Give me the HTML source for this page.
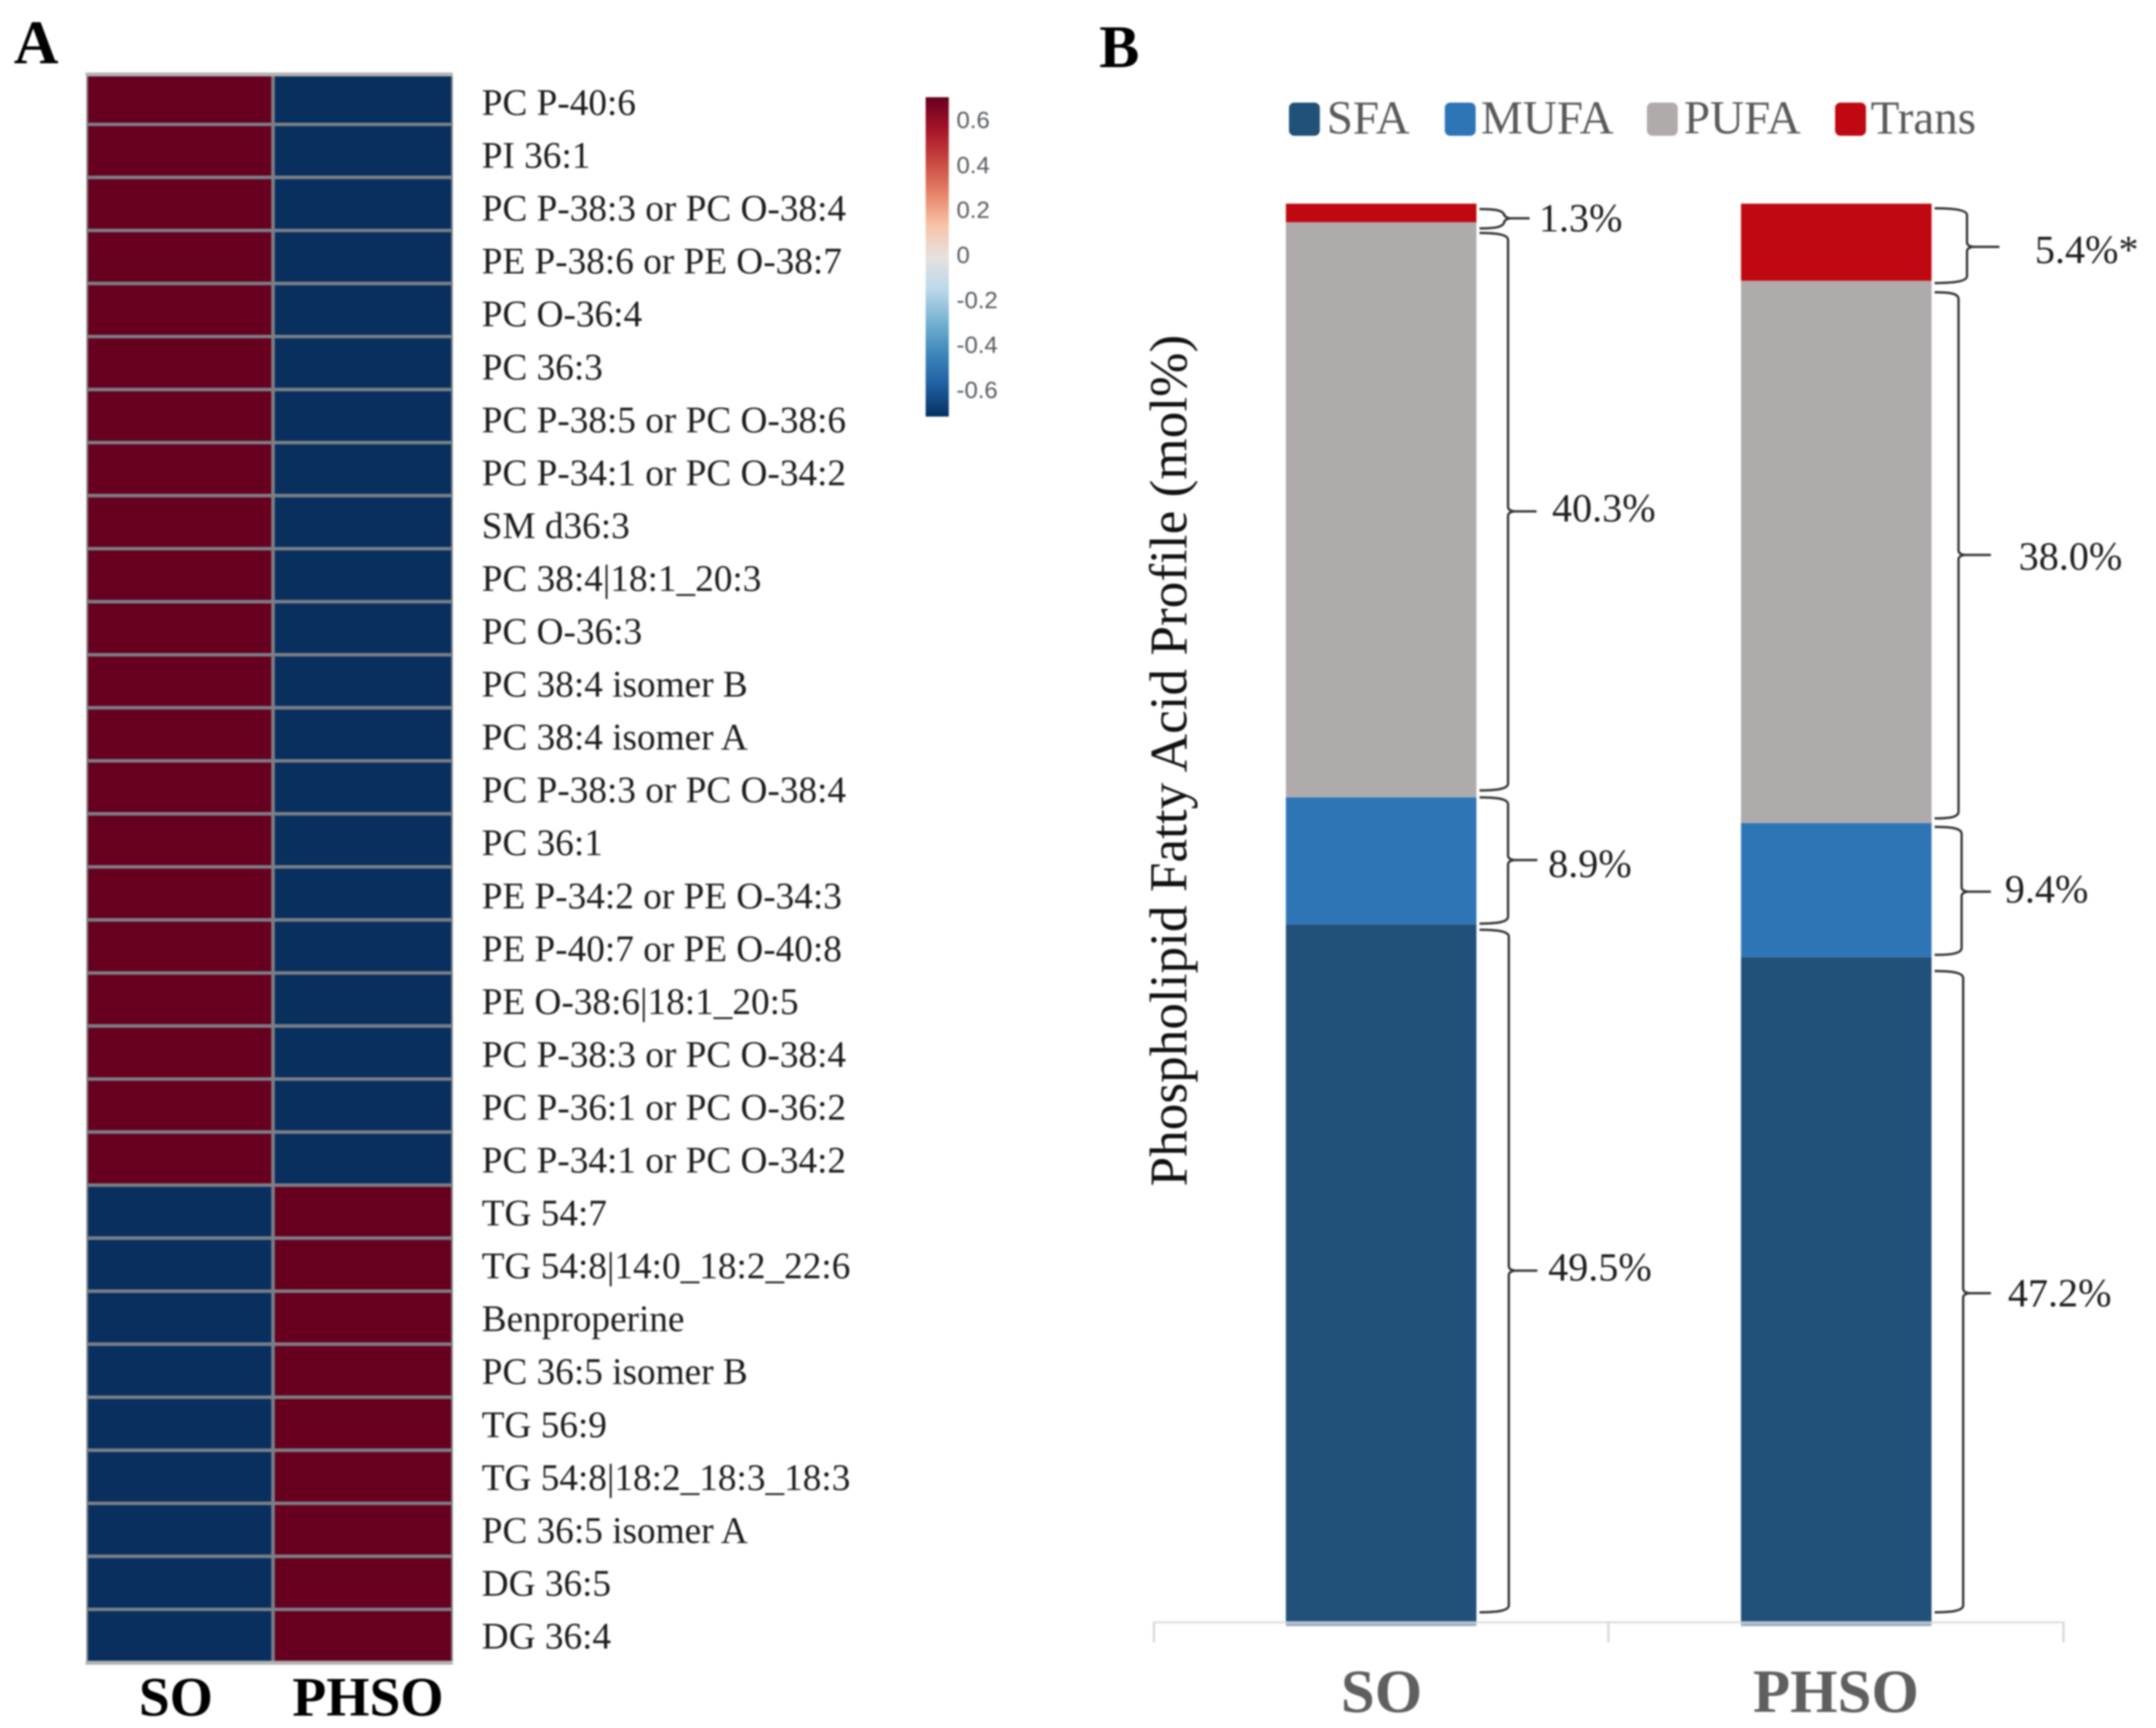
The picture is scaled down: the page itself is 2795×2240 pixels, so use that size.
<!DOCTYPE html>
<html lang="en">
<head>
<meta charset="utf-8">
<title>Heatmap and phospholipid fatty acid profile</title>
<style>
  html, body { margin: 0; padding: 0; background: #fff; width: 2795px; height: 2240px; overflow: hidden; }
  svg { display: block; filter: blur(1.1px); }
  text { font-family: "Liberation Serif", serif; }
</style>
</head>
<body>
<svg id="figure" xmlns="http://www.w3.org/2000/svg" width="2795" height="2240" viewBox="0 0 2795 2240">
  <defs>
    <linearGradient id="rdbu" x1="0" y1="0" x2="0" y2="1">
      <stop offset="0" stop-color="#67001f"/>
      <stop offset="0.1" stop-color="#a51429"/>
      <stop offset="0.2" stop-color="#c8473f"/>
      <stop offset="0.3" stop-color="#e58368"/>
      <stop offset="0.4" stop-color="#f8c3a7"/>
      <stop offset="0.5" stop-color="#e6e2df"/>
      <stop offset="0.6" stop-color="#bcd9ea"/>
      <stop offset="0.7" stop-color="#78b4d4"/>
      <stop offset="0.8" stop-color="#3d88bb"/>
      <stop offset="0.9" stop-color="#1f5fa3"/>
      <stop offset="1" stop-color="#053061"/>
    </linearGradient>
    <clipPath id="heat-clip"><rect x="112" y="94" width="475" height="2064"/></clipPath>
    <clipPath id="plot-clip"><rect x="1400" y="200" width="1395" height="1908"/></clipPath>
  </defs>
  <text x="18" y="82" font-size="80" font-weight="bold" fill="#000">A</text>
  <text x="1425" y="87" font-size="78" font-weight="bold" fill="#000">B</text>
  <text transform="translate(1538,1538) rotate(-90)" font-size="69" fill="#111">Phospholipid Fatty Acid Profile (mol%)</text>
  <g id="heatmap"></g>
  <g id="colorbar"></g>
  <g id="stacked-chart"></g>
</svg>
<script>
// ---- Panel A data ----
const lipidLabels = ["PC P-40:6","PI 36:1","PC P-38:3 or PC O-38:4","PE P-38:6 or PE O-38:7","PC O-36:4","PC 36:3","PC P-38:5 or PC O-38:6","PC P-34:1 or PC O-34:2","SM d36:3","PC 38:4|18:1_20:3","PC O-36:3","PC 38:4 isomer B","PC 38:4 isomer A","PC P-38:3 or PC O-38:4","PC 36:1","PE P-34:2 or PE O-34:3","PE P-40:7 or PE O-40:8","PE O-38:6|18:1_20:5","PC P-38:3 or PC O-38:4","PC P-36:1 or PC O-36:2","PC P-34:1 or PC O-34:2","TG 54:7","TG 54:8|14:0_18:2_22:6","Benproperine","PC 36:5 isomer B","TG 56:9","TG 54:8|18:2_18:3_18:3","PC 36:5 isomer A","DG 36:5","DG 36:4"];
const heatColumns = ["SO","PHSO"];
const soHeatValues = [0.7,0.7,0.7,0.7,0.7,0.7,0.7,0.7,0.7,0.7,0.7,0.7,0.7,0.7,0.7,0.7,0.7,0.7,0.7,0.7,0.7,-0.7,-0.7,-0.7,-0.7,-0.7,-0.7,-0.7,-0.7,-0.7];
const phsoHeatValues = [-0.7,-0.7,-0.7,-0.7,-0.7,-0.7,-0.7,-0.7,-0.7,-0.7,-0.7,-0.7,-0.7,-0.7,-0.7,-0.7,-0.7,-0.7,-0.7,-0.7,-0.7,0.7,0.7,0.7,0.7,0.7,0.7,0.7,0.7,0.7];
const colorbarTicks = [0.6,0.4,0.2,0,-0.2,-0.4,-0.6];

// ---- Panel B data (mol%) ----
const barCategories = ["SO","PHSO"];
const fattyAcidClasses = ["SFA","MUFA","PUFA","Trans"];
const soProfile = [49.5,8.9,40.3,1.3];
const phsoProfile = [47.2,9.4,38.0,5.4];
const soValueLabels = ["49.5%","8.9%","40.3%","1.3%"];
const phsoValueLabels = ["47.2%","9.4%","38.0%","5.4%*"];

// ---- Styling and layout (not data) ----
const classColors = ["#215079","#2e75b6","#afabab","#c00812"];
const legendLayout = [
  {sx:1671, tx:1720},
  {sx:1873, tx:1920},
  {sx:2135, tx:2183},
  {sx:2379, tx:2425}
];
const braceLayout = [
  [ {x:1956,end:1993,lx:2007,dy:-9,dt:7,db:-24,ldy:13}, {x:1955,end:1993,lx:2007,dy:-1,dt:0,db:-1,ldy:22}, {x:1955,end:1992,lx:2012,dy:2,dt:14,db:-9,ldy:13}, {x:1950,end:1983,lx:1995,dy:7,dt:7,db:8,ldy:17} ],
  [ {x:2545,end:2581,lx:2603,dy:-1,dt:18,db:-24,ldy:17}, {x:2543,end:2581,lx:2599,dy:2,dt:5,db:-3,ldy:14}, {x:2539,end:2581,lx:2617,dy:4,dt:15,db:-6,ldy:19}, {x:2550,end:2592,lx:2638,dy:6,dt:6,db:3,ldy:21} ]
];

const NS = "http://www.w3.org/2000/svg";
function make(parent, tag, attrs, txt) {
  const el = document.createElementNS(NS, tag);
  for (const k in attrs) el.setAttribute(k, attrs[k]);
  if (txt !== undefined) el.textContent = txt;
  parent.appendChild(el);
  return el;
}

// ---- Panel A scales ----
const rowY = i => 92.5 + 68.75 * i;
const labelY = i => 149 + 68.55 * i;
const colX = [112, 354, 587];
const barY = v => 332 - v * 291.7;
function heatColor(v) {
  const t = Math.max(-1, Math.min(1, v / 0.7));
  const hi = [103,0,31], mid = [230,226,223], lo = [8,47,94];
  const end = t >= 0 ? hi : lo, a = Math.abs(t);
  return "rgb(" + mid.map((m, i) => Math.round(m + (end[i] - m) * a)).join(",") + ")";
}

const heat = document.getElementById("heatmap");
const heatCells = make(heat, "g", {"clip-path":"url(#heat-clip)"});
lipidLabels.forEach((name, i) => {
  [soHeatValues[i], phsoHeatValues[i]].forEach((v, c) => {
    const cell = make(heatCells, "rect", {x:colX[c], y:rowY(i), width:colX[c+1]-colX[c], height:68.75, fill:heatColor(v), stroke:"#7c7f86", "stroke-width":4.5});
    
    
  });
  const lab = make(heat, "text", {x:624.5, y:labelY(i), "font-size":48.3, fill:"#1c1c1c"}, name);
  
  
});
const frameTop = make(heat, "rect", {x:111, y:94, width:476, height:5, fill:"#b3b3b3"});


const frameBottom = make(heat, "rect", {x:111, y:2153, width:476, height:5, fill:"#b3b3b3"});


const heatColCenters = [228, 477];
heatColumns.forEach((name, c) => {
  const t = make(heat, "text", {x:heatColCenters[c], y:2224, "font-size":72, "font-weight":"bold", "text-anchor":"middle", fill:"#000"}, name);
  
  
});

// ---- Colour bar ----
const cb = document.getElementById("colorbar");
const cbRect = make(cb, "rect", {x:1200, y:126, width:30, height:414, fill:"url(#rdbu)"});


colorbarTicks.forEach(v => {
  const t = make(cb, "text", {x:1240, y:barY(v) + 9, "font-size":31, fill:"#565b60", style:'font-family:"Liberation Sans",sans-serif'}, String(v));
  
  
});

// ---- Panel B scales ----
const chart = document.getElementById("stacked-chart");
const yScale = v => 2114 - v * 18.5;
const barLeft = [1667, 2257];
const barWidth = 247;
const catCenter = [1791, 2380];
const axisTicks = [1496, 2085, 2675];
const profiles = [soProfile, phsoProfile];
const valueLabels = [soValueLabels, phsoValueLabels];

// legend
fattyAcidClasses.forEach((name, i) => {
  const sw = make(chart, "rect", {x:legendLayout[i].sx, y:133, width:40, height:43, rx:7, fill:classColors[i]});
  
  
  const t = make(chart, "text", {x:legendLayout[i].tx, y:173, "font-size":61, fill:"#595959"}, name);
  
  
});

// bars and braces
const barsGroup = make(chart, "g", {"clip-path":"url(#plot-clip)"});
function bracePath(xs, top, xv, bottom, mid, end) {
  return "M" + xs + " " + top +
    " C" + (xs + 18) + " " + top + " " + xv + " " + (top + 1) + " " + xv + " " + (top + 9) +
    " V" + (mid - 6) +
    " Q" + xv + " " + (mid - 1) + " " + (xv + 8) + " " + mid +
    " L" + end + " " + mid +
    " M" + (xv + 8) + " " + mid +
    " Q" + xv + " " + (mid + 1) + " " + xv + " " + (mid + 6) +
    " V" + (bottom - 9) +
    " C" + xv + " " + (bottom - 1) + " " + (xs + 18) + " " + bottom + " " + xs + " " + bottom;
}
barCategories.forEach((cat, b) => {
  let cum = 0;
  profiles[b].forEach((v, s) => {
    const y0 = yScale(cum), y1 = yScale(cum + v);
    cum += v;
    const seg = make(barsGroup, "rect", {x:barLeft[b], y:y1, width:barWidth, height:y0 - y1, fill:classColors[s]});
    
    

    const L = braceLayout[b][s];
    const mid = (y0 + y1) / 2 + L.dy;
    const top = y1 + L.dt, bottom = y0 + L.db;
    const xs = barLeft[b] + barWidth + 4;
    const brace = make(chart, "path", {d:bracePath(xs, top, L.x, bottom, mid, L.end), fill:"none", stroke:"#333", "stroke-width":3});
    
    
    const t = make(chart, "text", {x:L.lx, y:mid + L.ldy, "font-size":52, fill:"#1d1d1d"}, valueLabels[b][s]);
    
    
  });
  const fade = make(chart, "rect", {x:barLeft[b], y:2103, width:barWidth, height:5, fill:"#ffffff", opacity:0.55});
  
  
  const t = make(chart, "text", {x:catCenter[b], y:2219, "font-size":79, "font-weight":"bold", "text-anchor":"middle", fill:"#5f5f5f"}, cat);
  
  
});

// x axis
const axisLine = make(chart, "line", {x1:axisTicks[0], x2:axisTicks[2], y1:2103, y2:2103, stroke:"#d9d9d9", "stroke-width":3, opacity:0.75});


axisTicks.forEach(x => {
  const tk = make(chart, "line", {x1:x, x2:x, y1:2102, y2:2129, stroke:"#d9d9d9", "stroke-width":3});
  
  
});
</script>
</body>
</html>
